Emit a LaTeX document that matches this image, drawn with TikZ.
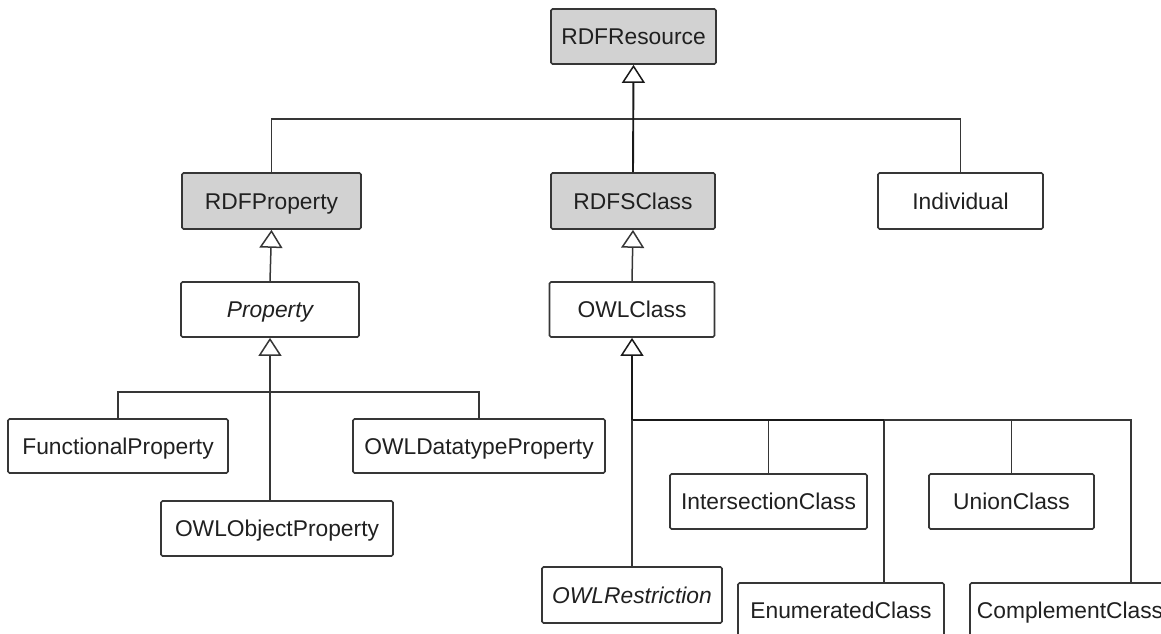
\documentclass[tikz,border=0pt]{standalone}
\usepackage{fontspec}
\setmainfont{Liberation Sans}
\usetikzlibrary{arrows.meta}
\definecolor{boxfill}{HTML}{D2D2D2}
\definecolor{edge}{HTML}{363636}
\definecolor{ink}{HTML}{202020}
\begin{document}
\begin{tikzpicture}[x=1pt,y=-1pt,
  cls/.style={draw=edge, line width=1.7pt, rounded corners=1.5pt, fill=white,
    inner sep=0pt, text=ink, font=\fontsize{22.8}{27}\selectfont,
    text height=16.4pt, text depth=0pt, anchor=center},
  core/.style={cls, fill=boxfill},
  conn/.style={draw=edge, line width=1.5pt},
  trunk/.style={draw=black!90, line width=1.9pt},
  inherit/.style={-{Triangle[open, width=23pt, length=18pt, line width=1.5pt]}},
]
\useasboundingbox (0,0) rectangle (1161,634);
\clip (0,0) rectangle (1161,634);

% class boxes
\node[core, minimum width=165pt, minimum height=55pt] (rdfresource) at (633.5,36.5) {RDFResource};
\node[core, minimum width=179pt, minimum height=56pt] (rdfproperty) at (271.5,201) {RDFProperty};
\node[core, minimum width=164pt, minimum height=56pt] (rdfsclass) at (633,201) {RDFSClass};
\node[cls, minimum width=165pt, minimum height=56pt] (individual) at (960.5,201) {Individual};

\node[cls, minimum width=178pt, minimum height=55pt] (property) at (270,309.5) {\itshape Property};
\node[cls, minimum width=165pt, minimum height=55pt] (owlclass) at (632,309.5) {OWLClass};

\node[cls, minimum width=220pt, minimum height=54pt] (functional) at (118,446) {FunctionalProperty};
\node[cls, minimum width=252pt, minimum height=54pt] (datatype) at (479,446) {OWLDatatypeProperty};
\node[cls, minimum width=232pt, minimum height=55pt] (objectprop) at (277,528.5) {OWLObjectProperty};

\node[cls, minimum width=197pt, minimum height=55pt] (intersection) at (768.5,501.5) {IntersectionClass};
\node[cls, minimum width=165pt, minimum height=55pt] (union) at (1011.5,501.5) {UnionClass};
\node[cls, minimum width=180pt, minimum height=56pt] (restriction) at (632,595) {\itshape OWLRestriction};
\node[cls, minimum width=206pt, minimum height=55pt] (enumerated) at (841,610.5) {EnumeratedClass};
\node[cls, minimum width=200pt, minimum height=55pt] (complement) at (1070,610.5) {ComplementClass};

% bus lines of the generalisation trees
\coordinate (topbus) at (0,119);
\coordinate (propbus) at (0,392);
\coordinate (classbus) at (0,420);

% RDFResource subclasses
\draw[conn] (rdfproperty.north) -- (rdfproperty.north |- topbus) -- (individual.north |- topbus) -- (individual.north);
\draw[trunk, inherit] (rdfsclass.north) -- (rdfresource.south);

% RDFProperty / RDFSClass subclasses
\draw[conn, inherit] (property.north) -- (rdfproperty.south);
\draw[conn, inherit] (owlclass.north) -- (rdfsclass.south);

% Property subclasses
\draw[conn] (functional.north) -- (functional.north |- propbus) -- (datatype.north |- propbus) -- (datatype.north);
\draw[conn, inherit] (objectprop.north -| property.south) -- (property.south);

% OWLClass subclasses
\draw[conn] ([xshift=147pt]enumerated.north west) -- ([xshift=147pt]enumerated.north west |- classbus);
\draw[conn] ([xshift=162pt]complement.north west) -- ([xshift=162pt]complement.north west |- classbus)
  -- (restriction.north |- classbus);
\draw[conn] (intersection.north) -- (intersection.north |- classbus);
\draw[conn] (union.north) -- (union.north |- classbus);
\draw[trunk] (restriction.north |- classbus) -- ([xshift=147pt]enumerated.north west |- classbus);
\draw[conn] (restriction.north) -- (restriction.north |- classbus);
\draw[trunk, inherit] (restriction.north |- classbus) -- (owlclass.south);
\end{tikzpicture}
\end{document}
